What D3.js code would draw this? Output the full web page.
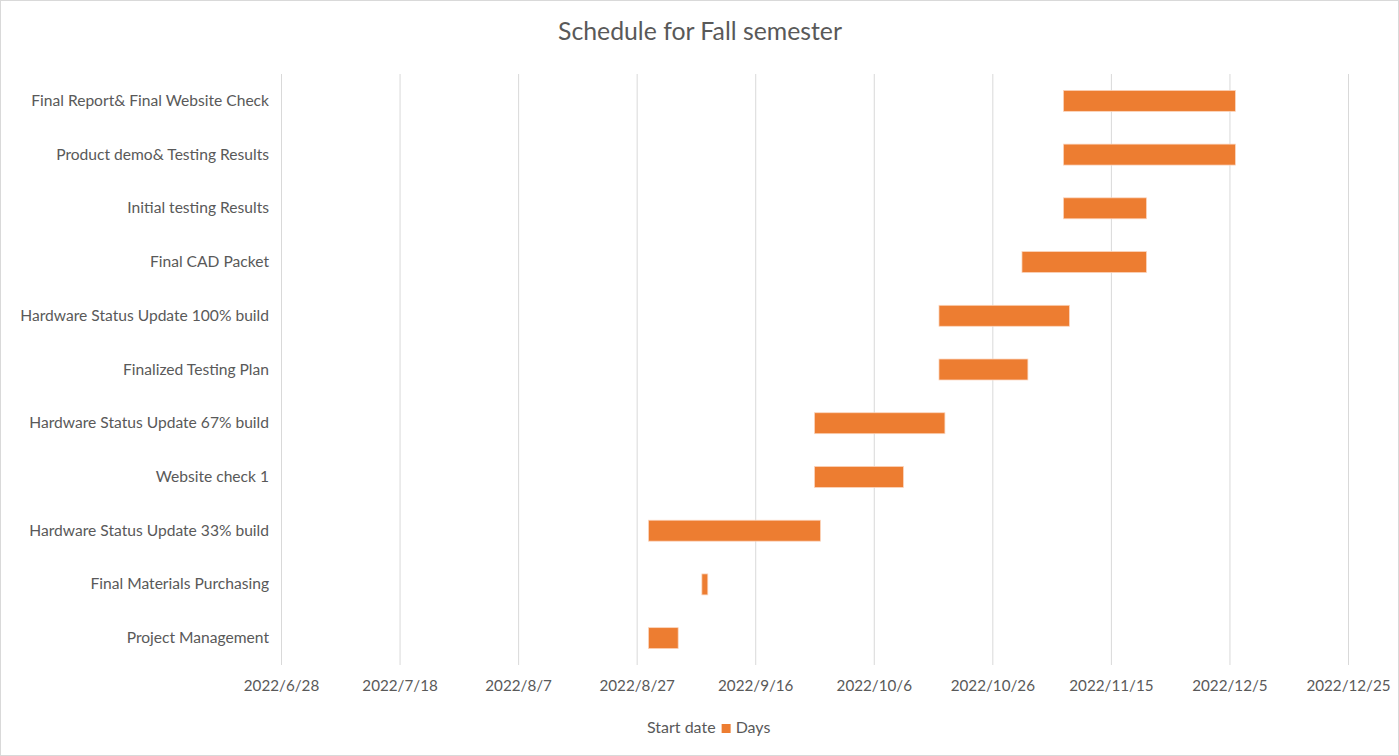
<!DOCTYPE html>
<html>
<head>
<meta charset="utf-8">
<script src="https://cdn.jsdelivr.net/npm/d3@7"></script>
<style>
  html, body { margin: 0; padding: 0; background: #fff; }
  svg { display: block; }
  text { font-family: "Lato", "Open Sans", sans-serif; }
</style>
</head>
<body>
<svg id="chart" width="1399" height="756"></svg>
<script>
const title = "Schedule for Fall semester";
const tasks = [
  "Project Management",
  "Final Materials Purchasing",
  "Hardware Status Update 33% build",
  "Website check 1",
  "Hardware Status Update 67% build",
  "Finalized Testing Plan",
  "Hardware Status Update 100% build",
  "Final CAD Packet",
  "Initial testing Results",
  "Product demo& Testing Results",
  "Final Report& Final Website Check"
];
const startDates = [
  "2022-08-29", "2022-09-07", "2022-08-29", "2022-09-26", "2022-09-26",
  "2022-10-17", "2022-10-17", "2022-10-31", "2022-11-07", "2022-11-07", "2022-11-07"
];
const days = [5, 1, 29, 15, 22, 15, 22, 21, 14, 29, 29];
const tickDates = [
  "2022-06-28", "2022-07-18", "2022-08-07", "2022-08-27", "2022-09-16",
  "2022-10-06", "2022-10-26", "2022-11-15", "2022-12-05", "2022-12-25"
];
const legendLabels = ["Start date", "Days"];

const parse = d3.utcParse("%Y-%m-%d");
const fmt = d => `${d.getUTCFullYear()}/${d.getUTCMonth() + 1}/${d.getUTCDate()}`;

const svg = d3.select("#chart");
const W = 1399, H = 756;
const margin = { left: 281, right: 51, top: 74, bottom: 91 };
const FONT = "Lato, 'Open Sans', sans-serif";

svg.append("rect").attr("x", 0.5).attr("y", 0.5).attr("width", W - 1).attr("height", H - 1)
  .attr("fill", "#fff").attr("stroke", "#d9d9d9");

const ticks = tickDates.map(parse);
const x = d3.scaleUtc()
  .domain([ticks[0], ticks[ticks.length - 1]])
  .range([margin.left, W - margin.right]);

const y = d3.scaleBand()
  .domain(tasks.slice().reverse())
  .range([margin.top, H - margin.bottom])
  .paddingInner(0.61).paddingOuter(0.305);

svg.append("text").attr("x", 700).attr("y", 40).attr("text-anchor", "middle")
  .attr("font-size", 24.8).attr("fill", "#595959").text(title);

// gridlines + date ticks
const xAxis = d3.axisBottom(x).tickValues(ticks).tickFormat(fmt)
  .tickSize(-(H - margin.bottom - margin.top)).tickPadding(15);
const gx = svg.append("g").attr("transform", `translate(0,${H - margin.bottom})`).call(xAxis);
gx.select(".domain").remove();
gx.selectAll(".tick line").attr("stroke", "#d9d9d9").attr("stroke-width", 1);
gx.selectAll(".tick text").attr("font-size", 15.2).attr("fill", "#595959")
  .attr("font-family", FONT);

// task labels
const yAxis = d3.axisLeft(y).tickSize(0).tickPadding(12);
const gy = svg.append("g").attr("transform", `translate(${margin.left},0)`).call(yAxis);
gy.select(".domain").remove();
gy.selectAll(".tick text").attr("font-size", 15.6).attr("fill", "#595959")
  .attr("font-family", FONT);

// bars
const data = tasks.map((t, i) => {
  const s = parse(startDates[i]);
  return { task: t, start: s, end: d3.utcDay.offset(s, days[i]) };
});
svg.append("g").selectAll("rect").data(data).join("rect")
  .attr("x", d => x(d.start))
  .attr("y", d => y(d.task))
  .attr("width", d => x(d.end) - x(d.start))
  .attr("height", y.bandwidth())
  .attr("fill", "#ED7D31")
  .attr("stroke", "#fbd5bd").attr("stroke-width", 0.75);

// legend
const lg = svg.append("g").attr("transform", "translate(0,728)");
const t1 = lg.append("text").attr("x", 647).attr("y", 5).attr("font-size", 16).attr("fill", "#595959").text(legendLabels[0]);
const w1 = t1.node().getComputedTextLength();
lg.append("rect").attr("x", 647 + w1 + 6).attr("y", -4).attr("width", 9).attr("height", 9).attr("fill", "#ED7D31");
lg.append("text").attr("x", 647 + w1 + 20).attr("y", 5).attr("font-size", 16).attr("fill", "#595959").text(legendLabels[1]);
</script>
</body>
</html>
